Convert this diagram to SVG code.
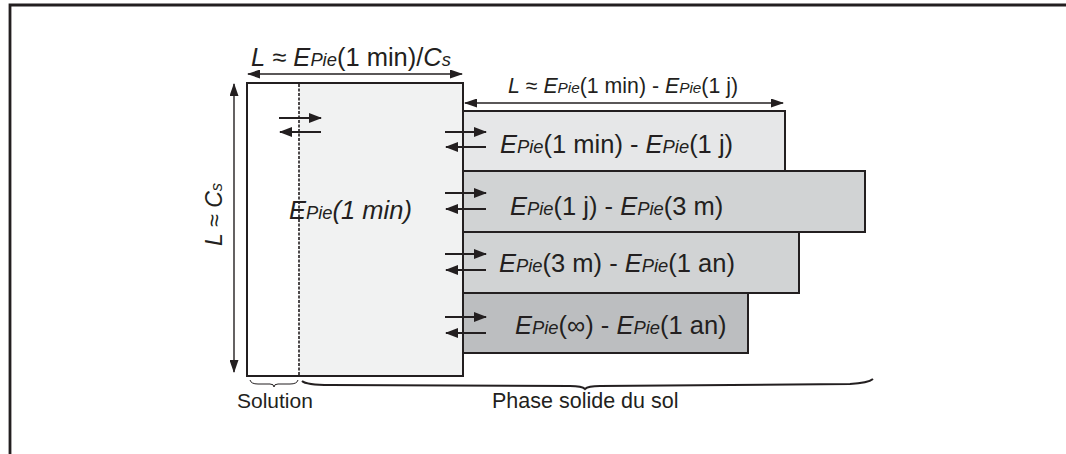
<svg xmlns="http://www.w3.org/2000/svg" width="1066" height="454" viewBox="0 0 1066 454">
<style>
text{font-family:"Liberation Sans",Arial,sans-serif;fill:#231f20}
.i{font-style:italic}
.sub{font-style:italic;font-size:0.72em}
.ln{stroke:#231f20;stroke-width:2;fill:none}
.dim{stroke:#231f20;stroke-width:1.4;fill:none}
.box{stroke:#231f20;stroke-width:2}
.lab{font-size:25.5px}
</style>
<defs>
<marker id="ah" viewBox="0 0 13 10" refX="12" refY="5" markerWidth="13" markerHeight="10" markerUnits="userSpaceOnUse" orient="auto-start-reverse">
<path d="M0,0 L13,5 L0,10 Z" fill="#231f20"/>
</marker>
<marker id="ad" viewBox="0 0 13 9" refX="12" refY="4.5" markerWidth="13" markerHeight="9" markerUnits="userSpaceOnUse" orient="auto-start-reverse">
<path d="M0,0 L13,4.5 L0,9 Z" fill="#231f20"/>
</marker>
</defs>
<rect width="1066" height="454" fill="#fff"/>
<path d="M10,454 V5 H1066" stroke="#231f20" stroke-width="2.8" fill="none"/>

<g id="layers">
<g id="layer1"><rect class="box" x="463" y="111" width="322" height="60" fill="#e6e7e8"/>
<text class="lab" x="500" y="153"><tspan class="i">E</tspan><tspan class="sub">Pie</tspan>(1 min) - <tspan class="i">E</tspan><tspan class="sub">Pie</tspan>(1 j)</text></g>
<g id="layer2"><rect class="box" x="463" y="171" width="402" height="61" fill="#d1d3d4"/>
<text class="lab" x="510" y="215"><tspan class="i">E</tspan><tspan class="sub">Pie</tspan>(1 j) - <tspan class="i">E</tspan><tspan class="sub">Pie</tspan>(3 m)</text></g>
<g id="layer3"><rect class="box" x="463" y="232" width="336" height="61" fill="#d1d3d4"/>
<text class="lab" x="499" y="272"><tspan class="i">E</tspan><tspan class="sub">Pie</tspan>(3 m) - <tspan class="i">E</tspan><tspan class="sub">Pie</tspan>(1 an)</text></g>
<g id="layer4"><rect class="box" x="463" y="293" width="285" height="60" fill="#bcbec0"/>
<text class="lab" x="515" y="334"><tspan class="i">E</tspan><tspan class="sub">Pie</tspan>(∞) - <tspan class="i">E</tspan><tspan class="sub">Pie</tspan>(1 an)</text></g>
</g>

<g id="main">
<rect class="box" x="247" y="83" width="216" height="293" fill="#fff"/>
<rect x="299" y="84" width="163" height="291" fill="#f1f2f2"/>
<line x1="299" y1="84" x2="299" y2="375" stroke="#231f20" stroke-width="1.6" stroke-dasharray="3,1.5"/>
<text class="lab i" x="289" y="219">E<tspan class="sub">Pie</tspan>(1 min)</text>
</g>

<g id="connectors">
<line class="dim" x1="248" y1="74" x2="462" y2="74" marker-start="url(#ad)" marker-end="url(#ad)"/>
<line class="dim" x1="465" y1="103" x2="783" y2="103" marker-start="url(#ad)" marker-end="url(#ad)"/>
<line class="dim" x1="234" y1="84" x2="234" y2="372" marker-start="url(#ad)" marker-end="url(#ad)"/>
<line class="ln" x1="279" y1="118" x2="321" y2="118" marker-end="url(#ah)"/>
<line class="ln" x1="321" y1="132" x2="280" y2="132" marker-end="url(#ah)"/>
<line class="ln" x1="445" y1="132" x2="486" y2="132" marker-end="url(#ah)"/>
<line class="ln" x1="486" y1="147" x2="446" y2="147" marker-end="url(#ah)"/>
<line class="ln" x1="445" y1="193" x2="486" y2="193" marker-end="url(#ah)"/>
<line class="ln" x1="486" y1="209" x2="446" y2="209" marker-end="url(#ah)"/>
<line class="ln" x1="445" y1="254" x2="486" y2="254" marker-end="url(#ah)"/>
<line class="ln" x1="486" y1="270" x2="446" y2="270" marker-end="url(#ah)"/>
<line class="ln" x1="445" y1="317" x2="486" y2="317" marker-end="url(#ah)"/>
<line class="ln" x1="486" y1="333" x2="446" y2="333" marker-end="url(#ah)"/>
</g>

<g id="labels">
<text x="251" y="66" font-size="25.5"><tspan class="i">L</tspan> ≈ <tspan class="i">E</tspan><tspan class="sub">Pie</tspan>(1 min)/<tspan class="i">C</tspan><tspan class="sub">s</tspan></text>
<text x="508" y="93" font-size="21.3"><tspan class="i">L</tspan> ≈ <tspan class="i">E</tspan><tspan class="sub">Pie</tspan>(1 min) - <tspan class="i">E</tspan><tspan class="sub">Pie</tspan>(1 j)</text>
<text transform="translate(222,246) rotate(-90)" font-size="23"><tspan class="i">L</tspan> ≈ <tspan class="i">C</tspan><tspan class="sub">s</tspan></text>
</g>

<g id="braces">
<path d="M250,380 Q251,384 258,384 L270,384 Q274,384 274,387 Q274,384 278,384 L290,384 Q297,384 298,380" stroke="#231f20" stroke-width="1" fill="none"/>
<path d="M302,381 Q306,385 330,385 L570,386 Q582,386 585,389 Q588,386 600,386 L850,384 Q868,383 873,379" stroke="#231f20" stroke-width="2" fill="none"/>
<text x="237" y="408" font-size="21">Solution</text>
<text x="492" y="408" font-size="21.5">Phase solide du sol</text>
</g>
</svg>
